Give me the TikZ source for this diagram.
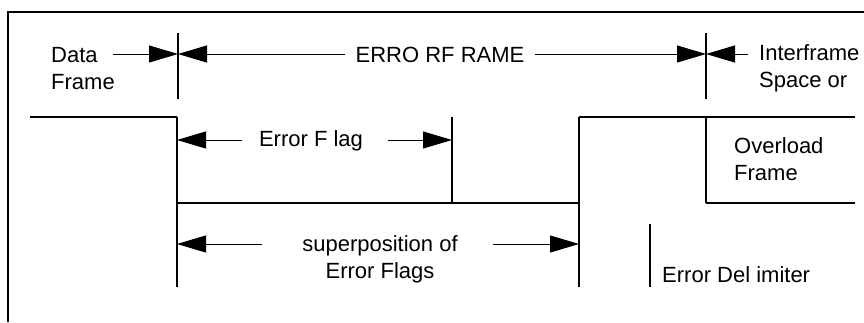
\documentclass[tikz,border=0pt]{standalone}
\usepackage{fontspec}
\setmainfont{Liberation Sans}
\usetikzlibrary{arrows.meta}
\tikzset{
  lbl/.style={inner sep=0pt, font=\fontsize{22}{27}\selectfont},
  one/.style={lbl, text height=15.8pt, text depth=0pt},
  sig/.style={line width=1.8pt},
  tick/.style={line width=1.2pt},
  border/.style={line width=2.8pt},
  arr/.style={line width=1pt, -{Triangle[length=29pt, width=17pt]}}
}
\begin{document}
\begin{tikzpicture}[x=1pt,y=-1pt]
\useasboundingbox (0,0) rectangle (864,322);
% frame
\draw[border] (8,322) -- (8,12) -- (864,12);
% top ticks
\coordinate (tAt) at (178,33); \coordinate (tAb) at (178,99);
\coordinate (tBt) at (706,33); \coordinate (tBb) at (706,99);
\coordinate (tA) at (178,54); \coordinate (tB) at (706,54);
\draw[tick] (tAt) -- (tAb);
\draw[tick] (tBt) -- (tBb);
% top labels
\node[lbl, anchor=west, align=left] (data) at (51,68.6) {Data\\Frame};
\node[one] (errf) at (440,55) {ERRO RF RAME};
\node[lbl, anchor=west, align=left] (ifs) at (759,68.6) {Interframe\\Space or};
\coordinate (dataR) at (113,54);
\coordinate (errL) at (345,54);
\coordinate (errR) at (535,54);
\coordinate (ifsL) at (748,54);
\draw[arr] (dataR) -- (tA);
\draw[arr] (errL) -- (tA);
\draw[arr] (errR) -- (tB);
\draw[arr] (ifsL) -- (tB);
% signal
\coordinate (s0) at (30,117);
\coordinate (s1) at (177,117);
\coordinate (s2) at (177,203);
\coordinate (s2b) at (177,287);
\coordinate (s3) at (579,203);
\coordinate (s4) at (579,117);
\coordinate (s4b) at (579,287);
\coordinate (s5) at (855,117);
\coordinate (fE1) at (452,117);
\coordinate (fE2) at (452,203);
\coordinate (o1) at (706,117);
\coordinate (o2) at (706,203);
\coordinate (o3) at (855,203);
\coordinate (d1) at (650,224);
\coordinate (d2) at (650,287);
\draw[sig] (s0) -- (s1);
\draw[tick] (s1) -- (s2b);
\draw[sig] (s2) -- (s3);
\draw[tick] (s4b) -- (s4);
\draw[sig] (s4) -- (s5);
\draw[tick] (fE1) -- (fE2);
\draw[tick] (o1) -- (o2);
\draw[sig] (o2) -- (o3);
\draw[tick] (d1) -- (d2);
% error flag
\node[one] (eflag) at (311,138.5) {Error F lag};
\coordinate (efA) at (177,140);
\coordinate (efB) at (452,140);
\coordinate (efL) at (242,140);
\coordinate (efR) at (388,140);
\draw[arr] (efL) -- (efA);
\draw[arr] (efR) -- (efB);
% superposition
\node[lbl, align=center] (sup) at (380,259) {superposition of\\Error Flags};
\coordinate (spA) at (177,244);
\coordinate (spB) at (579,244);
\coordinate (spL) at (262,244);
\coordinate (spR) at (493,244);
\draw[arr] (spL) -- (spA);
\draw[arr] (spR) -- (spB);
% overload
\node[lbl, anchor=west, align=left] (ovl) at (734,159) {Overload\\Frame};
% delimiter
\node[one, anchor=west] (edel) at (662,274.5) {Error Del imiter};
\end{tikzpicture}
\end{document}
